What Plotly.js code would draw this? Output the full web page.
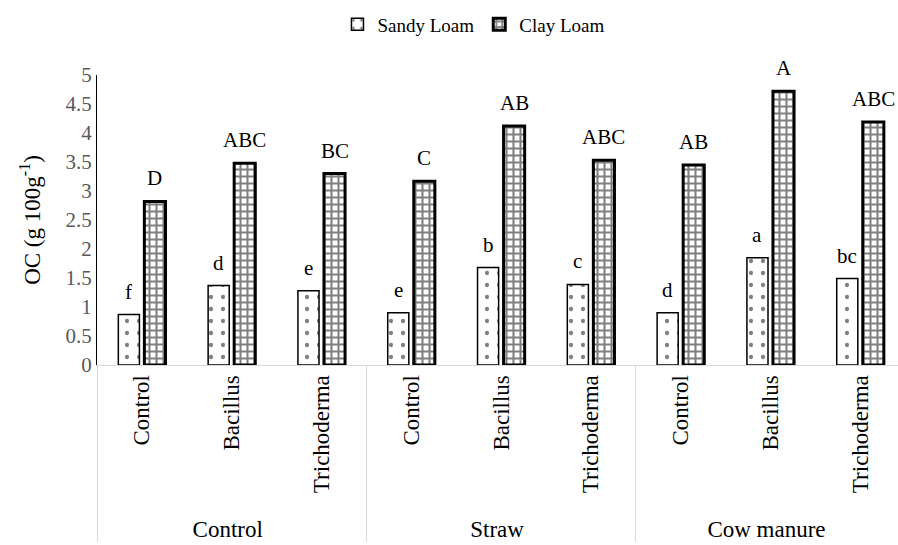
<!DOCTYPE html>
<html>
<head>
<meta charset="utf-8">
<script src="https://cdn.plot.ly/plotly-3.0.1.min.js"></script>
<style>html,body{margin:0;padding:0;background:#fff;}#chart{width:898px;height:545px;}</style>
</head>
<body>
<div id="chart"></div>
<script>
const groups = ["Control","Control","Control","Straw","Straw","Straw","Cow manure","Cow manure","Cow manure"];
const treatments = ["Control","Bacillus","Trichoderma","Control","Bacillus","Trichoderma","Control","Bacillus","Trichoderma"];
const sandyLoam = [0.87, 1.37, 1.28, 0.90, 1.68, 1.39, 0.90, 1.85, 1.49];
const clayLoam = [2.82, 3.48, 3.30, 3.17, 4.12, 3.53, 3.45, 4.72, 4.19];
const sandyLetters = ["f","d","e","e","b","c","d","a","bc"];
const clayLetters = ["D","ABC","BC","C","AB","ABC","AB","A","ABC"];
const yTitle = "OC (g 100g<sup>-1</sup>)";

const serif = "Times New Roman";
const barGap = 0.42;
const barOffset = (1 - barGap) / 4;

const traces = [
  {
    type: "bar", name: "Sandy Loam",
    x: [groups, treatments], y: sandyLoam,
    marker: {color: "#fff", line: {color: "#000", width: 1.5},
      pattern: {shape: ".", size: 12, solidity: 0.1, fgcolor: "#000", bgcolor: "#fff", fillmode: "overlay"}}
  },
  {
    type: "bar", name: "Clay Loam",
    x: [groups, treatments], y: clayLoam,
    marker: {color: "#fff", line: {color: "#000", width: 3},
      pattern: {shape: "+", size: 7, solidity: 0.5, fgcolor: "#000", bgcolor: "#fff", fillmode: "overlay"}}
  }
];

const annotations = [];
sandyLoam.forEach((v, i) => annotations.push({x: i - barOffset, y: v, text: sandyLetters[i]}));
clayLoam.forEach((v, i) => annotations.push({x: i + barOffset, y: v, text: clayLetters[i]}));
annotations.forEach(a => Object.assign(a, {xref: "x", yref: "y", showarrow: false, yanchor: "bottom",
  xanchor: "center", yshift: 9, font: {family: serif, size: 21, color: "#000"}}));

const layout = {
  width: 898, height: 545,
  margin: {l: 97, r: 0, t: 75, b: 180},
  paper_bgcolor: "#fff", plot_bgcolor: "#fff",
  font: {family: serif, size: 18, color: "#000"},
  barmode: "group", bargap: barGap, bargroupgap: 0.19,
  showlegend: true,
  legend: {orientation: "h", x: 0.47, xanchor: "center", yref: "container", y: 0.99, yanchor: "top",
    font: {family: serif, size: 19, color: "#000"}, itemwidth: 30, traceorder: "normal"},
  annotations: annotations,
  xaxis: {
    type: "multicategory", range: [-0.5, 8.42],
    tickangle: -90, tickfont: {family: serif, size: 23, color: "#000"},
    showline: true, linecolor: "#d9d9d9", linewidth: 1,
    ticks: "", showgrid: false, zeroline: false,
    showdividers: true, dividercolor: "#d9d9d9", dividerwidth: 1
  },
  yaxis: {
    range: [0, 5], dtick: 0.5, tick0: 0,
    showline: true, linecolor: "#000", linewidth: 1,
    showgrid: false, zeroline: false, ticks: "",
    tickfont: {family: serif, size: 21, color: "#595959"},
    title: {text: yTitle, font: {family: serif, size: 23, color: "#000"}, standoff: 18}
  }
};

Plotly.newPlot("chart", traces, layout, {displayModeBar: false, staticPlot: true});
</script>
</body>
</html>
